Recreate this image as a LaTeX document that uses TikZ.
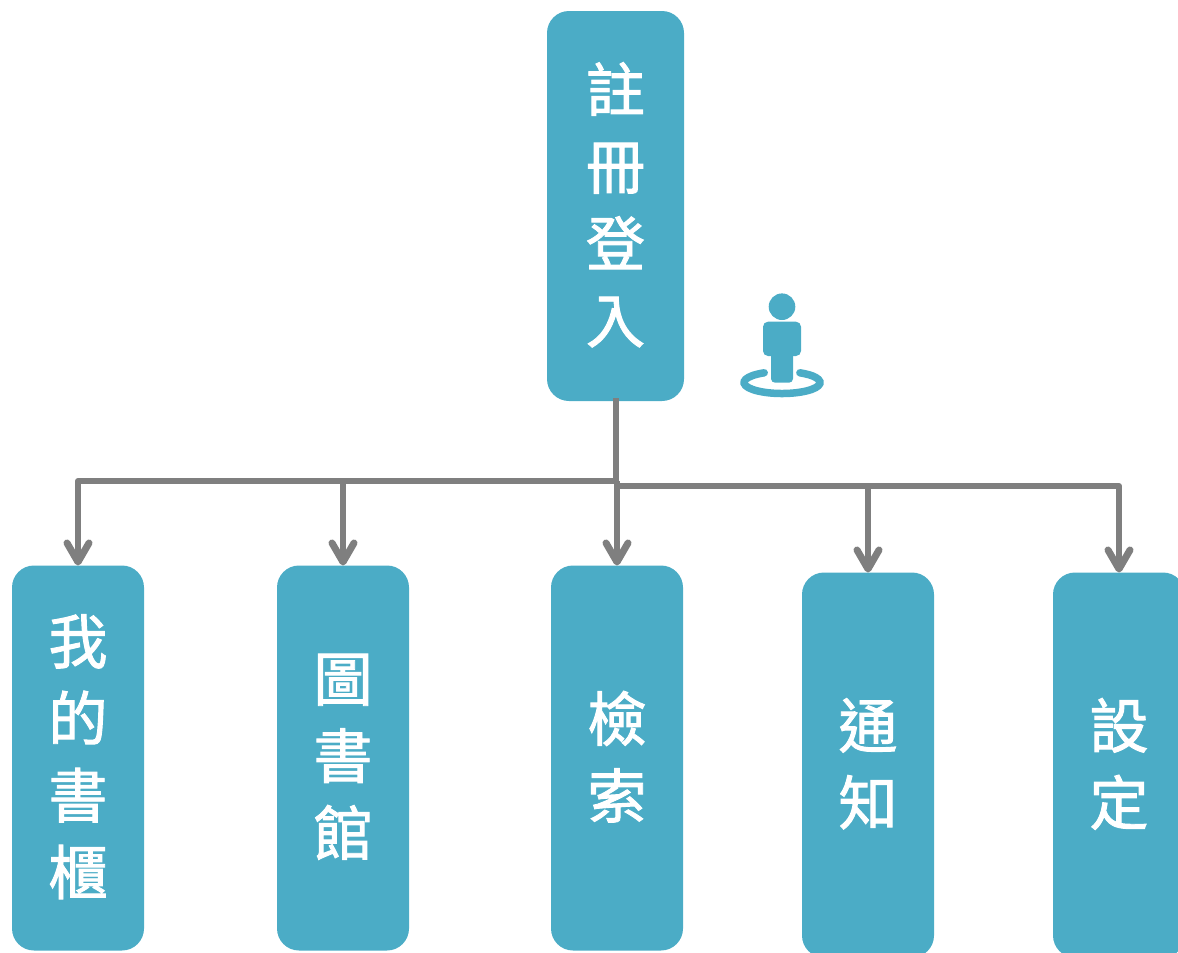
\documentclass[tikz,border=0pt]{standalone}
\usepackage{fontspec}
\setmainfont[FakeBold=1.6]{Noto Sans CJK TC}
\usetikzlibrary{arrows.meta}
\definecolor{boxteal}{HTML}{4BACC6}
\definecolor{linegray}{HTML}{7F7F7F}
\tikzset{
  menubox/.style={fill=boxteal,text=white,rounded corners=22pt,inner sep=0pt,outer sep=0pt,
    minimum width=132pt,minimum height=385pt,align=center,text depth=7pt,
    font=\fontsize{59pt}{77pt}\selectfont},
  conn/.style={draw=linegray,line width=6pt,line join=round},
  arrowconn/.style={conn,-{Straight Barb[round,length=19pt,width=22pt,line width=7pt]}},
  icon/.style={fill=boxteal,draw=none},
}
\begin{document}
\begin{tikzpicture}[x=1pt,y=-1pt]
\useasboundingbox (0,0) rectangle (1178,953);
\clip (0,0) rectangle (1178,953);
\node[menubox,minimum width=137pt,minimum height=390pt] (login) at (615.5,206) {註\\冊\\登\\入};
\node[menubox] (shelf) at (78,758) {我\\的\\書\\櫃};
\node[menubox] (library) at (343,758) {圖\\書\\館};
\node[menubox] (search) at (617,758) {檢\\索};
\node[menubox] (notify) at (868,765) {通\\知};
\node[menubox] (settings) at (1119,765) {設\\定};
\coordinate (upper) at (login.south |- 0,481);
\coordinate (lower) at (search.north |- 0,486);
\draw[conn] ([yshift=3pt]login.south) -- (upper);
\draw[arrowconn] (upper) -| (shelf.north);
\draw[arrowconn] (library.north |- upper) -- (library.north);
\draw[arrowconn] (search.north |- upper) -- (search.north);
\draw[arrowconn] (lower) -| (settings.north);
\draw[arrowconn] (notify.north |- lower) -- (notify.north);
% person icon
\fill[icon] (782,306.7) circle[radius=13.3pt];
\fill[icon,rounded corners=5pt] (763,321.7) rectangle (801,356);
\fill[icon,rounded corners=4pt] (771,345) rectangle (793,382.7);
\draw[boxteal,line width=7.5pt,line cap=round] (764.2,372.8) arc[start angle=118,end angle=422,x radius=38pt,y radius=11pt];
\end{tikzpicture}
\end{document}
